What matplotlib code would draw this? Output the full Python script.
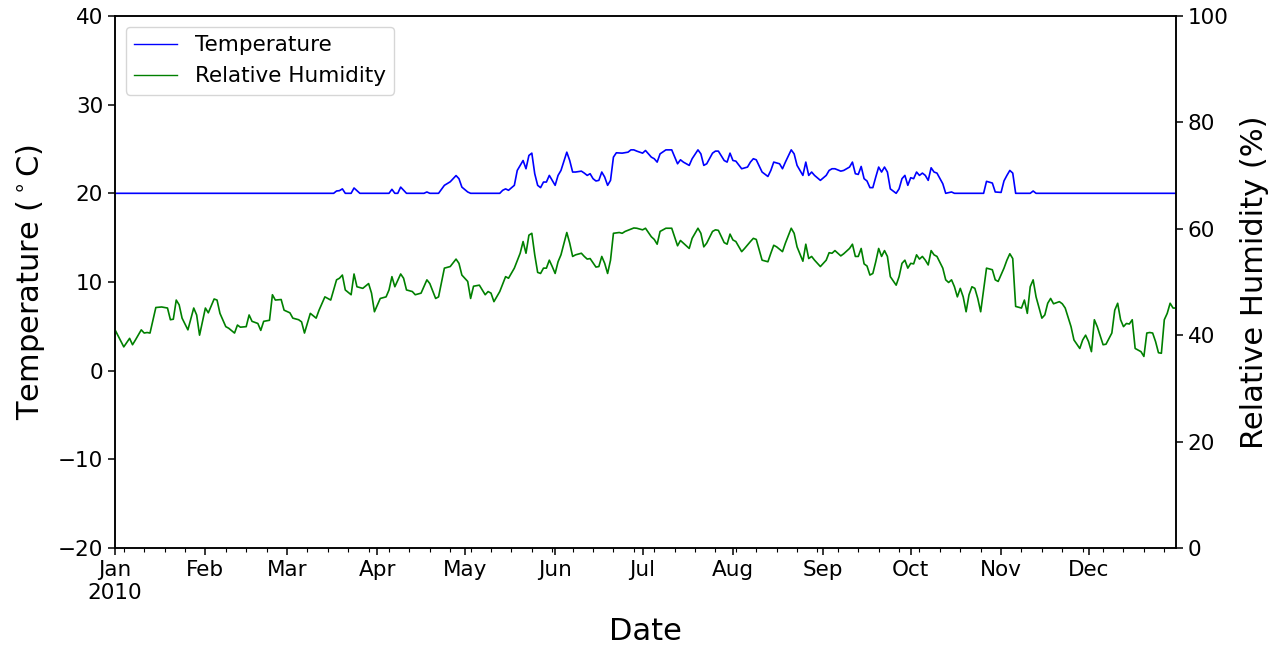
import numpy as np
import matplotlib
matplotlib.use('Agg')
import matplotlib.pyplot as plt
import matplotlib.dates as mdates

# day of year (0 = 1 Jan 2010) and daily readings
temp_days = [0, 75, 76, 77, 78, 79, 81, 82, 84, 94, 95, 96, 97, 98, 100, 106, 107, 108,
             111, 113, 115, 117, 118, 119, 121, 122, 132, 133, 134, 135, 137, 138, 140,
             141, 142, 143, 144, 145, 146, 147, 148, 149, 150, 151, 152, 153, 155, 156,
             157, 158, 160, 161, 162, 163, 164, 165, 166, 167, 168, 169, 170, 171, 172,
             174, 176, 177, 178, 179, 181, 182, 184, 185, 186, 187, 189, 191, 193, 194,
             195, 197, 198, 200, 201, 202, 203, 205, 206, 207, 209, 210, 211, 212, 213,
             215, 217, 218, 219, 220, 222, 224, 225, 226, 228, 229, 230, 232, 233, 234,
             236, 237, 238, 239, 240, 242, 244, 245, 246, 247, 249, 250, 252, 253, 254,
             255, 256, 257, 258, 259, 260, 261, 262, 263, 264, 265, 266, 268, 269, 270,
             271, 272, 273, 274, 275, 276, 277, 278, 279, 280, 281, 282, 284, 285, 287,
             288, 298, 299, 301, 302, 304, 305, 306, 307, 308, 309, 314, 315, 316, 364]
temp_vals = [20.0, 20.0, 20.26, 20.3, 20.5, 20.0, 20.0, 20.6, 20.0, 20.0, 20.45, 20.0, 20.0,
             20.7, 20.0, 20.0, 20.15, 20.0,
             20.0, 20.9, 21.3, 22.0, 21.65, 20.7, 20.15, 20.0, 20.0, 20.34, 20.5, 20.34,
             20.9, 22.58, 23.7,
             22.77, 24.27, 24.53, 22.21, 20.9, 20.64, 21.27, 21.27, 22.02, 21.46, 20.9,
             22.02, 22.58, 24.64, 23.7,
             22.4, 22.4, 22.5, 22.28, 22.02, 22.21, 21.65, 21.39, 21.46, 22.4, 21.83,
             20.9, 21.46, 24.08, 24.57,
             24.53, 24.64, 24.9, 24.9, 24.76, 24.53, 24.83, 24.08, 23.9, 23.52, 24.45,
             24.9, 24.9, 23.33, 23.78,
             23.52, 23.15, 23.9, 24.9, 24.45, 23.15, 23.33, 24.53, 24.76, 24.76, 23.7,
             23.52, 24.53, 23.7, 23.63,
             22.77, 22.96, 23.52, 23.9, 23.78, 22.4, 21.9, 22.58, 23.52, 23.33, 22.77,
             23.52, 24.9, 24.45, 23.15,
             22.02, 23.52, 22.02, 22.4, 22.02, 21.46, 22.02, 22.58, 22.77, 22.77, 22.5,
             22.58, 22.96, 23.52, 22.21,
             22.13, 23.03, 21.65, 21.39, 20.64, 20.64, 21.83, 22.96, 22.4, 22.96, 22.4,
             20.5, 20.0, 20.5, 21.65,
             22.02, 20.9, 21.76, 21.65, 22.4, 22.02, 22.28, 22.02, 21.46, 22.88, 22.4,
             22.28, 21.08, 20.0, 20.15,
             20.0, 20.0, 21.35, 21.16, 20.15, 20.1, 21.4, 22.02, 22.58, 22.28, 20.0,
             20.0, 20.26, 20.0, 20.0]

rh_days = [0, 3, 5, 6, 7, 9, 10, 11, 12, 14, 16, 18, 19, 20, 21, 22, 23, 25, 27, 28, 29,
           31, 32, 34, 35, 36, 38, 39, 41, 42, 43, 45, 46, 47, 49, 50, 51, 53, 54, 55,
           57, 58, 60, 61, 63, 64, 65, 67, 69, 70, 72, 74, 76, 77, 78, 79, 81, 82, 83,
           85, 87, 88, 89, 91, 93, 94, 95, 96, 98, 99, 100, 102, 103, 105, 107, 108,
           110, 111, 113, 115, 117, 118, 119, 121, 122, 123, 125, 127, 128, 129, 130,
           132, 134, 135, 137, 139, 140, 141, 142, 143, 144, 145, 146, 147, 148, 149,
           150, 151, 152, 153, 155, 156, 157, 158, 160, 161, 162, 163, 165, 166, 167,
           168, 169, 170, 171, 173, 174, 175, 178, 179, 181, 182, 184, 185, 186, 187,
           189, 191, 193, 194, 195, 197, 198, 200, 201, 202, 203, 205, 206, 207, 209,
           210, 211, 212, 213, 215, 216, 218, 219, 220, 222, 224, 225, 226, 227, 229,
           230, 232, 233, 234, 236, 237, 238, 239, 240, 242, 244, 245, 246, 247, 249,
           250, 252, 253, 254, 255, 256, 257, 258, 259, 260, 261, 262, 263, 264, 265,
           266, 268, 269, 270, 271, 272, 273, 274, 275, 276, 277, 278, 279, 280, 281,
           282, 284, 285, 286, 287, 288, 289, 290, 291, 292, 293, 294, 295, 296, 297,
           299, 301, 302, 303, 305, 306, 307, 308, 309, 311, 312, 313, 314, 315, 316,
           318, 319, 320, 321, 322, 324, 325, 326, 328, 329, 331, 332, 333, 334, 335,
           336, 337, 339, 340, 342, 343, 344, 345, 346, 347, 348, 349, 350, 352, 353,
           354, 355, 356, 357, 358, 359, 360, 361, 362, 363, 364]
rh_vals = [41.0, 37.8, 39.4, 38.2, 39.1, 41.0, 40.4, 40.5, 40.4, 45.2, 45.3, 45.1, 42.9,
           43.0, 46.6, 45.7, 43.2, 41.0, 45.1, 43.8, 40.0,
           45.1, 44.2, 46.8, 46.6, 44.1, 41.6, 41.3, 40.4, 41.9, 41.5, 41.6, 43.8, 42.6,
           42.2, 40.9, 42.6, 42.8, 47.6, 46.6,
           46.7, 44.7, 44.2, 43.2, 42.9, 42.5, 40.4, 44.1, 43.2, 44.7, 47.2, 46.6, 50.4,
           50.7, 51.3, 48.5, 47.6, 51.5, 49.1,
           48.8, 49.7, 47.9, 44.4, 46.9, 47.2, 48.5, 51.0, 49.1, 51.5, 50.7, 48.5, 48.2,
           47.6, 47.9, 50.4, 49.7,
           46.9, 47.2, 52.6, 52.9, 54.3, 53.5, 51.3, 50.1, 46.9, 49.2, 49.4, 47.6, 48.2,
           47.9, 46.3,
           48.2, 51.0, 50.7, 52.6, 55.4, 57.6, 55.4, 58.8, 59.15, 55.1, 51.8, 51.6, 52.6,
           52.6, 54.1,
           52.9, 51.6, 53.8, 55.1, 59.3, 57.3, 54.8, 55.1, 55.4, 54.8, 54.3, 54.4, 52.8,
           52.9, 54.8,
           53.5, 51.6, 54.1, 59.15, 59.3, 59.15, 59.5, 60.15, 60.1, 59.8, 60.1, 58.5,
           58.0, 57.1, 59.5,
           60.1, 60.1, 56.8, 57.8, 57.3, 56.3, 58.2, 60.1, 59.15, 56.6, 57.3, 59.5, 59.8,
           59.7, 57.4,
           57.1, 59.0, 57.9, 57.6, 55.7, 56.3, 57.6, 58.2, 58.0, 54.1, 53.8, 55.4, 56.9,
           56.6, 55.7,
           57.3, 60.1, 59.15, 56.6, 53.9, 57.1, 54.4, 54.8, 54.1, 52.9, 54.1, 55.5, 55.4,
           55.9, 54.9,
           55.3, 56.3, 57.1, 54.8, 54.8, 56.3, 53.4, 53.0, 51.3, 51.6, 53.8, 56.3, 54.8,
           55.9, 54.8,
           51.0, 49.4, 51.0, 53.5, 54.1, 52.6, 53.5, 53.4, 55.1, 54.3, 54.8, 54.1, 53.2,
           55.9, 55.1,
           54.8, 52.6, 50.4, 49.9, 50.4, 49.1, 47.2, 48.8, 47.2, 44.4, 47.6, 49.1, 48.8,
           46.9, 44.4,
           52.6, 52.3, 50.4, 50.1, 52.6, 54.1, 55.3, 54.4, 45.4, 45.1, 46.6, 44.1, 49.1,
           50.4, 47.2,
           43.2, 43.8, 46.0, 46.9, 45.9, 46.3, 45.9, 45.1, 41.6, 39.1, 37.5, 39.1, 40.0,
           38.8, 36.9,
           42.9, 41.6, 38.2, 38.3, 40.4, 44.7, 46.0, 42.9, 41.6, 42.2, 42.1, 42.9, 37.5,
           36.9, 36.0,
           40.4, 40.5, 40.4, 38.8, 36.7, 36.6, 42.9, 44.1, 46.0, 45.1, 45.1]

start = np.datetime64('2010-01-01')
temp_dates = start + np.array(temp_days).astype('timedelta64[D]')
rh_dates = start + np.array(rh_days).astype('timedelta64[D]')

fig = plt.figure(figsize=(12.81, 6.5), dpi=100)
ax = fig.add_subplot(111)
fig.subplots_adjust(left=0.0898, right=0.918, top=0.9754, bottom=0.157)
ax2 = ax.twinx()

l1, = ax.plot(temp_dates, temp_vals, color='blue', lw=1.2, label='Temperature')
l2, = ax2.plot(rh_dates, rh_vals, color='green', lw=1.2, label='Relative Humidity')

ax.set_ylim(-20, 40)
ax2.set_ylim(0, 100)
ax.set_yticks(range(-20, 41, 10))
ax2.set_yticks(range(0, 101, 20))
ax.set_xlim(start, np.datetime64('2010-12-31'))

ax.xaxis.set_major_locator(mdates.MonthLocator())
ax.xaxis.set_minor_locator(mdates.WeekdayLocator(byweekday=mdates.MO))


def month_fmt(x, pos):
    d = mdates.num2date(x)
    if d.month == 1:
        return d.strftime('%b\n%Y')
    return d.strftime('%b')


ax.xaxis.set_major_formatter(plt.FuncFormatter(month_fmt))

for a in (ax, ax2):
    a.tick_params(axis='both', which='major', labelsize=15.5, length=5, width=1.1)
    a.tick_params(axis='both', which='minor', length=3, width=0.8)
    for s in a.spines.values():
        s.set_linewidth(1.1)

ax.set_xlabel('Date', fontsize=22, labelpad=10)
ax.set_ylabel(r'Temperature ($^\circ$C)', fontsize=22, labelpad=8)
ax2.set_ylabel('Relative Humidity (%)', fontsize=22, labelpad=8)

leg = ax.legend(handles=[l1, l2], loc='upper left', fontsize=15.5)
for h in leg.get_lines():
    h.set_linewidth(1.0)

fig.savefig('out.png', dpi=100)
